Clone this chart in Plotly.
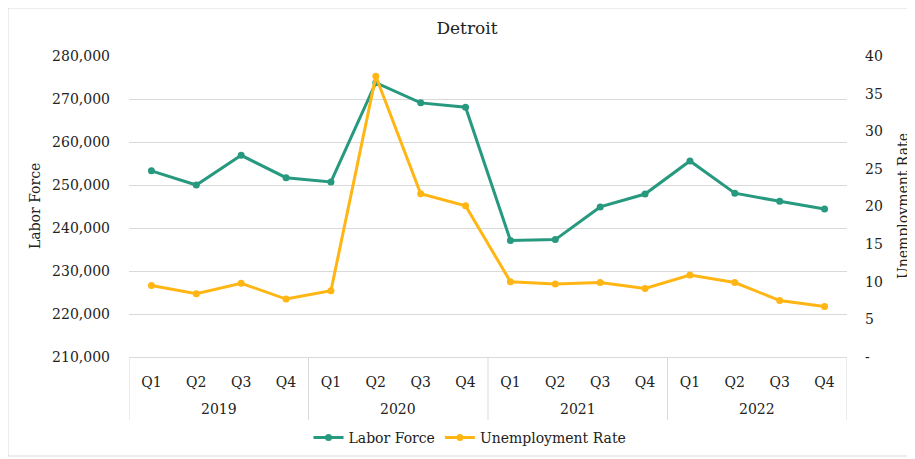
import plotly.graph_objects as go

years = ["2019", "2020", "2021", "2022"]
quarters = ["Q1", "Q2", "Q3", "Q4"]
categories = [f"{y} {q}" for y in years for q in quarters]
quarter_labels = [q for y in years for q in quarters]

labor_force = [253300, 250000, 256900, 251700, 250700, 273800, 269100, 268100,
               237100, 237300, 244900, 247900, 255600, 248100, 246200, 244400]
unemployment = [9.5, 8.4, 9.8, 7.7, 8.8, 37.3, 21.7, 20.1,
                10.0, 9.7, 9.9, 9.1, 10.9, 9.9, 7.5, 6.7]

right_tickvals = [0, 5, 10, 15, 20, 25, 30, 35, 40]
right_ticktext = ["-", "5", "10", "15", "20", "25", "30", "35", "40"]

TEAL = "#27997f"
GOLD = "#ffb614"
GRID = "#d9d9d9"
FONT = "DejaVu Serif"
TXT = "#222222"

# page has an 8px body margin; work in page pixels and convert
OFF = 8
W, H = 915 - OFF, 459 - OFF
PL, PR, PT, PB = 129, 847, 56, 357  # plot area in page pixels
L, R, T, B = PL - OFF, W - (PR - OFF), PT - OFF, H - (PB - OFF)
pw, ph = PR - PL, PB - PT

def px(x):
    return (x - PL) / pw

def py(y):
    return (PB - y) / ph

fig = go.Figure()
fig.add_trace(go.Scatter(
    x=categories, y=labor_force, name="Labor Force",
    mode="lines+markers", line=dict(color=TEAL, width=3),
    marker=dict(color=TEAL, size=7), yaxis="y"))
fig.add_trace(go.Scatter(
    x=categories, y=unemployment, name="Unemployment Rate",
    mode="lines+markers", line=dict(color=GOLD, width=3),
    marker=dict(color=GOLD, size=7), yaxis="y2"))

annotations = [
    dict(text="Labor Force", x=px(35), y=py(206), xref="paper", yref="paper",
         textangle=-90, showarrow=False, font=dict(size=14, color=TXT),
         xanchor="center", yanchor="middle"),
    dict(text="Unemployment Rate", x=px(903), y=py(206), xref="paper", yref="paper",
         textangle=-90, showarrow=False, font=dict(size=14, color=TXT),
         xanchor="center", yanchor="middle"),
]
shapes = [
    dict(type="rect", xref="paper", yref="paper",
         x0=px(8), x1=px(912), y0=py(456), y1=py(8),
         line=dict(color=GRID, width=1), fillcolor="rgba(0,0,0,0)", layer="below"),
]
n = len(quarters)
for i, y in enumerate(years):
    annotations.append(dict(text=y, x=i * n + (n - 1) / 2, xref="x", y=py(409),
                            yref="paper", showarrow=False, xanchor="center",
                            yanchor="middle", font=dict(size=14, color=TXT)))
for i in range(len(years) + 1):
    shapes.append(dict(type="line", xref="x", yref="paper",
                       x0=i * n - 0.5, x1=i * n - 0.5, y0=0, y1=py(420),
                       line=dict(color=GRID, width=1)))

fig.update_layout(
    width=W, height=H,
    margin=dict(l=L, r=R, t=T, b=B, autoexpand=False),
    paper_bgcolor="white", plot_bgcolor="white",
    font=dict(family=FONT, size=14, color=TXT),
    title=dict(text="Detroit", x=px(467), xanchor="center", xref="paper",
               y=1 - (28 - OFF) / H, yanchor="middle", font=dict(size=17, color=TXT)),
    xaxis=dict(type="category", categoryorder="array", categoryarray=categories,
               range=[-0.5, len(categories) - 0.5],
               tickvals=categories, ticktext=quarter_labels,
               showgrid=False, showline=True, linecolor=GRID, linewidth=1,
               ticks="", ticklabelstandoff=12, tickfont=dict(size=14, color=TXT)),
    yaxis=dict(range=[210000, 280000], tickvals=list(range(210000, 280001, 10000)),
               tickformat=",", showgrid=True, gridcolor=GRID, gridwidth=1,
               zeroline=False, showline=False, ticks="", ticklabelstandoff=18,
               tickfont=dict(size=14, color=TXT)),
    yaxis2=dict(range=[0, 40], tickvals=right_tickvals, ticktext=right_ticktext,
                overlaying="y", side="right", showgrid=False, zeroline=False,
                showline=False, ticks="", ticklabelstandoff=17,
                tickfont=dict(size=14, color=TXT)),
    showlegend=True,
    legend=dict(orientation="h", x=px(470), xanchor="center", y=py(438),
                yanchor="middle", font=dict(size=14, color=TXT),
                bgcolor="rgba(0,0,0,0)", itemwidth=30),
    annotations=annotations,
    shapes=shapes,
)

fig.write_html("out.html")
